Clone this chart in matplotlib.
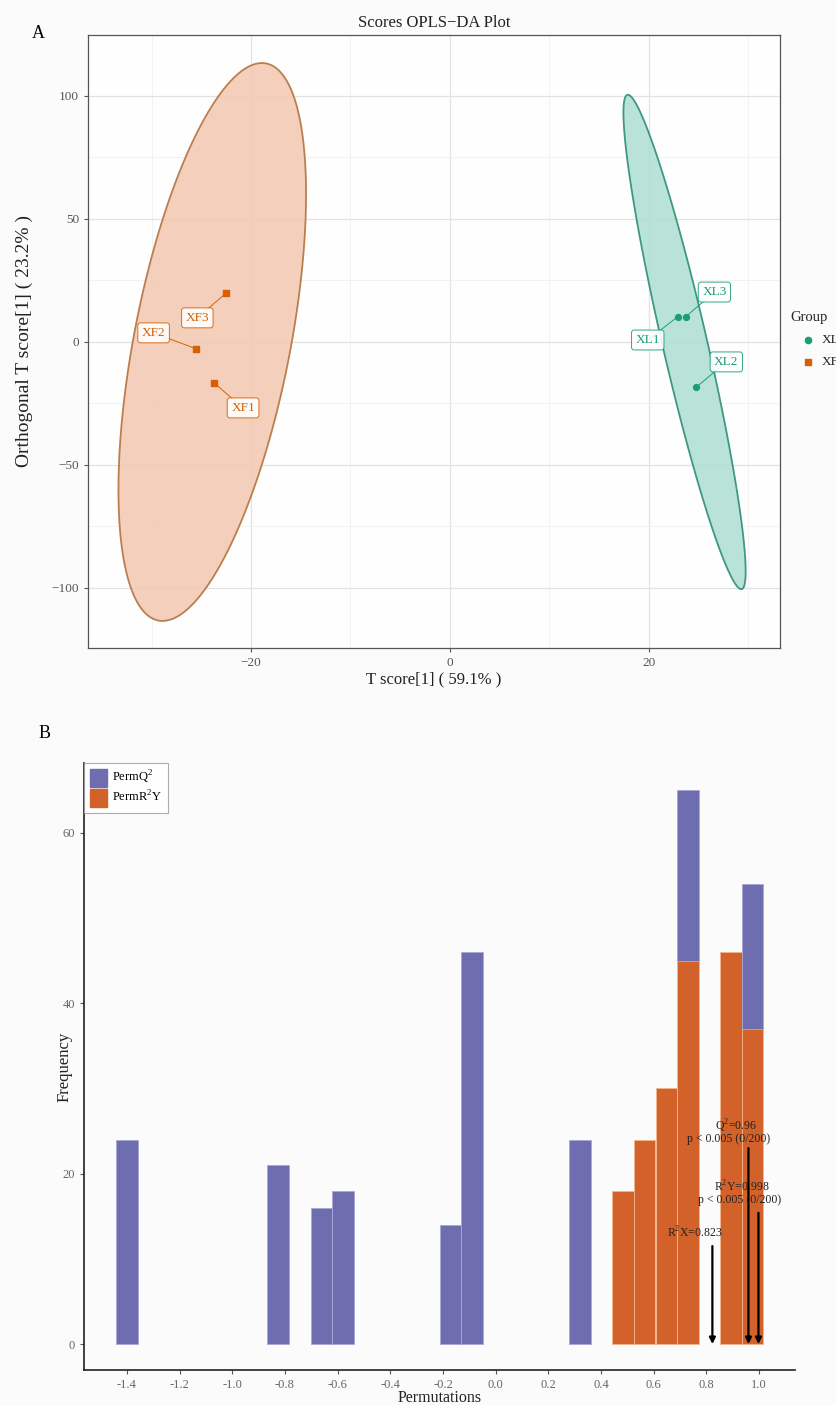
import numpy as np
import matplotlib
matplotlib.use('Agg')
import matplotlib.pyplot as plt
from matplotlib.patches import Polygon, Patch
from matplotlib.lines import Line2D

plt.rcParams['font.family'] = ['Liberation Serif', 'DejaVu Serif']
plt.rcParams['mathtext.fontset'] = 'custom'
plt.rcParams['mathtext.rm'] = 'Liberation Serif'

# ---------------- Panel A data ----------------
xl_names = ['XL1', 'XL3', 'XL2']
xl_t = [22.9, 23.7, 24.8]
xl_o = [10.2, 10.2, -18.3]
xf_names = ['XF3', 'XF2', 'XF1']
xf_t = [-22.5, -25.5, -23.7]
xf_o = [19.9, -2.8, -16.7]
# ellipse (centre t, centre o, cos-term, sin-term in t, half-height)
ell_xl = [23.6, 0.0, 2.3, -5.7, 100.5]
ell_xf = [-23.9, 0.0, 8.0, 5.0, 113.4]

# ---------------- Panel B data ----------------
r2y_x = [0.484, 0.566, 0.648, 0.730, 0.894, 0.976]
r2y_n = [18, 24, 30, 45, 46, 37]
q2_x = [-1.399, -0.826, -0.662, -0.580, -0.171, -0.089, 0.321, 0.730, 0.976]
q2_n = [24, 21, 16, 18, 14, 46, 24, 20, 17]
bin_w = 0.0819

GREEN = '#1b9e77'
ORANGE = '#d95f02'
BLUE = '#6e6db0'
ORB = '#d2622a'

fig = plt.figure(figsize=(8.37, 14.05), dpi=100, facecolor='#fbfbfb')

# ================= Panel A =================
axA = fig.add_axes([0.1051, 0.5388, 0.8268, 0.4363])
axA.set_facecolor('#fefefe')
axA.set_xlim(-36.4, 33.2)
axA.set_ylim(-124.4, 124.8)

t = np.linspace(0, 2 * np.pi, 300)
for e, fc, ec in [(ell_xf, '#f3cbb5', '#b5733f'), (ell_xl, '#b2e0d4', '#2e8f76')]:
    cx, cy, p, q, r = e
    xs = cx + p * np.cos(t) + q * np.sin(t)
    ys = cy + r * np.sin(t)
    axA.add_patch(Polygon(np.column_stack([xs, ys]), closed=True,
                          facecolor=fc, edgecolor=ec, lw=1.3, alpha=0.9, zorder=2))

axA.set_xticks([-20, 0, 20])
axA.set_yticks([-100, -50, 0, 50, 100])
axA.set_xticks([-30, -10, 10, 30], minor=True)
axA.set_yticks([-75, -25, 25, 75], minor=True)
axA.grid(True, which='major', color='#e3e3e3', lw=0.9, zorder=0)
axA.grid(True, which='minor', color='#f0f0f0', lw=0.6, zorder=0)
axA.set_axisbelow(True)
axA.tick_params(which='minor', length=0)
axA.tick_params(which='major', length=3, color='#555555', labelcolor='#555555', labelsize=9.5)
for s in axA.spines.values():
    s.set_color('#555555')
    s.set_linewidth(0.9)

# points and labels
xl_lab = [(19.9, 0.8), (26.6, 20.3), (27.8, -8.1)]
xf_lab = [(-25.4, 9.8), (-29.8, 3.7), (-20.8, -26.8)]
for names, xs, ys, labs, col, mk in [(xl_names, xl_t, xl_o, xl_lab, GREEN, 'o'),
                                      (xf_names, xf_t, xf_o, xf_lab, ORANGE, 's')]:
    axA.scatter(xs, ys, s=18, color=col, marker=mk, zorder=4)
    for n, x, y, (lx, ly) in zip(names, xs, ys, labs):
        axA.plot([x, lx], [y, ly], color=col, lw=0.7, zorder=3)
        axA.text(lx, ly, n, color=col, fontsize=9.5, ha='center', va='center', zorder=5,
                 bbox=dict(boxstyle='round,pad=0.3,rounding_size=0.2', fc='white',
                           ec=col, lw=0.7, alpha=0.9))

axA.set_title('Scores OPLS\u2212DA Plot', fontsize=12, color='#222222', pad=6)
axA.set_xlabel('T score[1] ( 59.1% )', fontsize=12, color='#222222', labelpad=2)
axA.set_ylabel('Orthogonal T score[1] ( 23.2% )', fontsize=14, color='#222222')
axA.yaxis.set_label_coords(-0.079, 0.5)

# legend A (partly cut by the figure edge)
fig.text(790 / 837, 1 - 318 / 1405, 'Group', fontsize=10.5, va='center', ha='left', color='#222222')
fig.add_artist(Line2D([808 / 837], [1 - 340 / 1405], marker='o', color=GREEN, ms=4.5,
                      transform=fig.transFigure, ls=''))
fig.add_artist(Line2D([808 / 837], [1 - 362 / 1405], marker='s', color=ORANGE, ms=4,
                      transform=fig.transFigure, ls=''))
fig.text(822 / 837, 1 - 340 / 1405, 'XL', fontsize=9.5, va='center', ha='left', color='#222222')
fig.text(822 / 837, 1 - 362 / 1405, 'XF', fontsize=9.5, va='center', ha='left', color='#222222')

fig.text(38 / 837, 1 - 33 / 1405, 'A', fontsize=13, va='center', ha='center')
fig.text(45 / 837, 1 - 733 / 1405, 'B', fontsize=13, va='center', ha='center')

# ================= Panel B =================
axB = fig.add_axes([0.1004, 0.0249, 0.8495, 0.4320])
axB.set_facecolor('#fbfbfb')
axB.set_xlim(-1.563, 1.137)
axB.set_ylim(-3.05, 68.2)

r2y_at = dict(zip(r2y_x, r2y_n))
q2_bottom = [r2y_at.get(x, 0) for x in q2_x]
axB.bar(r2y_x, r2y_n, width=bin_w, color=ORB, edgecolor='#f2b48a', lw=0.6, zorder=2)
axB.bar(q2_x, q2_n, width=bin_w, bottom=q2_bottom, color=BLUE, edgecolor='#a9a8d6', lw=0.6, zorder=2)

xt = np.round(np.arange(-1.4, 1.01, 0.2), 1)
axB.set_xticks(xt)
axB.set_xticklabels(['%.1f' % v if abs(v) > 1e-9 else '0.0' for v in xt])
axB.set_yticks([0, 20, 40, 60])
axB.tick_params(length=3, color='#555555', labelcolor='#666666', labelsize=9)
axB.spines['top'].set_visible(False)
axB.spines['right'].set_visible(False)
axB.spines['left'].set_color('#222222')
axB.spines['bottom'].set_color('#222222')
axB.spines['left'].set_linewidth(1.2)
axB.spines['bottom'].set_linewidth(1.2)
axB.set_xlabel('Permutations', fontsize=11.5, color='#222222', labelpad=0)
axB.xaxis.set_label_coords(0.5, -0.033)
axB.set_ylabel('Frequency', fontsize=12, color='#222222')
axB.yaxis.set_label_coords(-0.016, 0.5)

arrow_kw = dict(arrowstyle='-|>', color='black', lw=1.6, mutation_scale=9, shrinkA=0, shrinkB=0)
axB.annotate('', xy=(0.823, 0), xytext=(0.823, 11.5), arrowprops=arrow_kw, zorder=5)
axB.annotate('', xy=(0.96, 0), xytext=(0.96, 23.0), arrowprops=arrow_kw, zorder=5)
axB.annotate('', xy=(0.998, 0), xytext=(0.998, 15.4), arrowprops=arrow_kw, zorder=5)
tk = dict(fontsize=8.5, ha='center', va='center', color='#222222', zorder=6)
axB.text(0.757, 13.0, 'R$^2$X=0.823', **tk)
axB.text(0.911, 25.6, 'Q$^2$=0.96', **tk)
axB.text(0.886, 24.1, 'p < 0.005 (0/200)', **tk)
axB.text(0.934, 18.4, 'R$^2$Y=0.998', **tk)
axB.text(0.925, 16.9, 'p < 0.005 (0/200)', **tk)

leg = axB.legend(handles=[Patch(color=BLUE, label='PermQ$^2$'),
                          Patch(color=ORB, label='PermR$^2$Y')],
                 loc='upper left', bbox_to_anchor=(0.0, 1.0), borderaxespad=0,
                 fancybox=False, edgecolor='#999999', fontsize=9,
                 handlelength=1.4, handleheight=1.9, labelspacing=0.12, borderpad=0.45,
                 handletextpad=0.4)
leg.get_frame().set_linewidth(0.8)

fig.savefig('out.png', dpi=100, facecolor=fig.get_facecolor())
